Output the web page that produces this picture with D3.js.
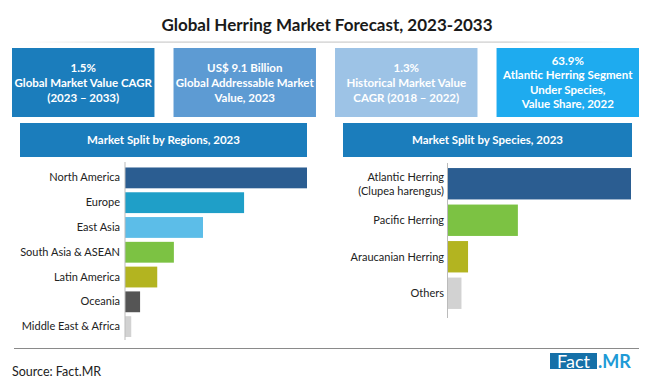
<!DOCTYPE html>
<html>
<head>
<meta charset="utf-8">
<script src="https://cdn.jsdelivr.net/npm/d3@7"></script>
<style>
  html, body { margin: 0; padding: 0; background: #fff; }
  svg { display: block; font-family: Lato, "Open Sans", sans-serif; }
</style>
</head>
<body>
<svg id="chart" width="650" height="381"></svg>
<script>
// ---- data ----
var title = "Global Herring Market Forecast, 2023-2033"

var statLines = [
  ["1.5%", "Global Market Value CAGR", "(2023 \u2013 2033)"],
  ["US$ 9.1 Billion", "Global Addressable Market", "Value, 2023"],
  ["1.3%", "Historical Market Value", "CAGR (2018 \u2013 2022)"],
  ["63.9%", "Atlantic Herring Segment", "Under Species,", "Value Share, 2022"]
]
var statColors = ["#1b7dbc", "#5d9bd3", "#9dc3e6", "#1eabef"]

var regions = ["North America", "Europe", "East Asia", "South Asia & ASEAN", "Latin America", "Oceania", "Middle East & Africa"]
var regionShare = [35.0, 22.9, 15.0, 9.4, 6.2, 2.9, 1.2]
var regionColors = ["#2b5d91", "#1f9fc8", "#5cbde8", "#7cc243", "#b3b420", "#555555", "#d2d2d2"]

var species = [["Atlantic Herring", "(Clupea harengus)"], ["Pacific Herring"], ["Araucanian Herring"], ["Others"]]
var speciesShare = [63.9, 24.4, 7.0, 4.7]
var speciesColors = ["#2b5d91", "#7cc243", "#b3b420", "#d2d2d2"]

// ---- drawing ----
var svg = d3.select("#chart")

svg.append("text")
  .attr("x", 327).attr("y", 30.5)
  .attr("text-anchor", "middle")
  .attr("font-size", 17).attr("font-weight", 700)
  .attr("fill", "#1a1a1a")
  .text(title)

var grad = svg.append("defs").append("linearGradient").attr("id", "fade")
grad.append("stop").attr("offset", "0%").attr("stop-color", "#ddd").attr("stop-opacity", 0)
grad.append("stop").attr("offset", "20%").attr("stop-color", "#ccc")
grad.append("stop").attr("offset", "80%").attr("stop-color", "#ccc")
grad.append("stop").attr("offset", "100%").attr("stop-color", "#ddd").attr("stop-opacity", 0)
svg.append("rect").attr("x", 20).attr("y", 41.5).attr("width", 610).attr("height", 1.2).attr("fill", "url(#fade)")

// stat boxes
var boxX = d3.scaleBand().domain(d3.range(statLines.length)).range([12, 639]).paddingInner(0.118)
var boxes = svg.selectAll(".stat").data(statLines).enter().append("g").attr("class", "stat")
boxes.append("rect")
  .attr("x", (d, i) => boxX(i)).attr("y", 48)
  .attr("width", boxX.bandwidth()).attr("height", 69)
  .attr("fill", (d, i) => statColors[i])
boxes.each(function (d, i) {
  var lh = d.length > 3 ? 14.3 : 15
  var y0 = 82.5 - (d.length - 1) * lh / 2 + 4
  d3.select(this).selectAll("text").data(d).enter().append("text")
    .attr("x", boxX(i) + boxX.bandwidth() / 2)
    .attr("y", (t, j) => y0 + j * lh)
    .attr("text-anchor", "middle")
    .attr("font-size", 11.5).attr("font-weight", 700)
    .attr("fill", "#fff")
    .text(t => t)
})

// panel headers
var headers = [{ x: 20, w: 287, t: "Market Split by Regions, 2023" }, { x: 343, w: 289, t: "Market Split by Species, 2023" }]
headers.forEach(function (h) {
  svg.append("rect").attr("x", h.x).attr("y", 123).attr("width", h.w).attr("height", 34).attr("fill", "#1b7dbc")
  svg.append("text").attr("x", h.x + h.w / 2).attr("y", 143.5)
    .attr("text-anchor", "middle").attr("font-size", 11.5).attr("font-weight", 700)
    .attr("fill", "#fff").text(h.t)
})

// left: regions
var yL = d3.scaleBand().domain(regions).range([165.5, 339]).paddingInner(0.16).paddingOuter(0.08)
var xL = d3.scaleLinear().domain([0, regionShare[0]]).range([125, 307])

svg.append("g").selectAll("rect").data(regions).enter().append("rect")
  .attr("x", xL(0)).attr("y", d => yL(d))
  .attr("width", (d, i) => xL(regionShare[i]) - xL(0))
  .attr("height", yL.bandwidth())
  .attr("fill", (d, i) => regionColors[i])

svg.append("g").attr("transform", "translate(" + xL(0) + ",0)")
  .call(d3.axisLeft(yL).tickSize(0).tickPadding(5))
  .call(g => g.select(".domain").attr("stroke", "#bbb").attr("d", "M0,162V340"))
  .call(g => g.selectAll("text").attr("font-size", 11).attr("fill", "#222").attr("font-family", "Lato, sans-serif"))

// right: species
var speciesKeys = species.map(d => d.join(" "))
var yR = d3.scaleBand().domain(speciesKeys).range([165.5, 311.5]).paddingInner(0.14).paddingOuter(0.07)
var xR = d3.scaleLinear().domain([0, speciesShare[0]]).range([448, 631])

svg.append("g").selectAll("rect").data(speciesKeys).enter().append("rect")
  .attr("x", xR(0)).attr("y", d => yR(d))
  .attr("width", (d, i) => xR(speciesShare[i]) - xR(0))
  .attr("height", yR.bandwidth())
  .attr("fill", (d, i) => speciesColors[i])

svg.append("line").attr("x1", xR(0) - 0.5).attr("x2", xR(0) - 0.5).attr("y1", 163).attr("y2", 318).attr("stroke", "#bbb")

species.forEach(function (lines, i) {
  var cy = yR(speciesKeys[i]) + yR.bandwidth() / 2
  lines.forEach(function (t, j) {
    svg.append("text")
      .attr("x", xR(0) - 4)
      .attr("y", cy + 4 + (j - (lines.length - 1) / 2) * 13.5)
      .attr("text-anchor", "end").attr("font-size", 11).attr("fill", "#222")
      .text(t)
  })
})

// footer
svg.append("line").attr("x1", 14).attr("x2", 639).attr("y1", 348.5).attr("y2", 348.5).attr("stroke", "#8a8a8a")
svg.append("text").attr("x", 12).attr("y", 376).attr("font-size", 12.5).attr("fill", "#222").text("Source: Fact.MR")

svg.append("rect").attr("x", 550).attr("y", 353).attr("width", 47).attr("height", 16).attr("fill", "#1570a8")
svg.append("text").attr("x", 573.5).attr("y", 367.5).attr("text-anchor", "middle")
  .attr("font-size", 18).attr("fill", "#fff").text("Fact")
svg.append("text").attr("x", 598).attr("y", 367.5)
  .attr("font-size", 18).attr("font-weight", 700).attr("fill", "#1e9ad6").text(".MR")
</script>
</body>
</html>
